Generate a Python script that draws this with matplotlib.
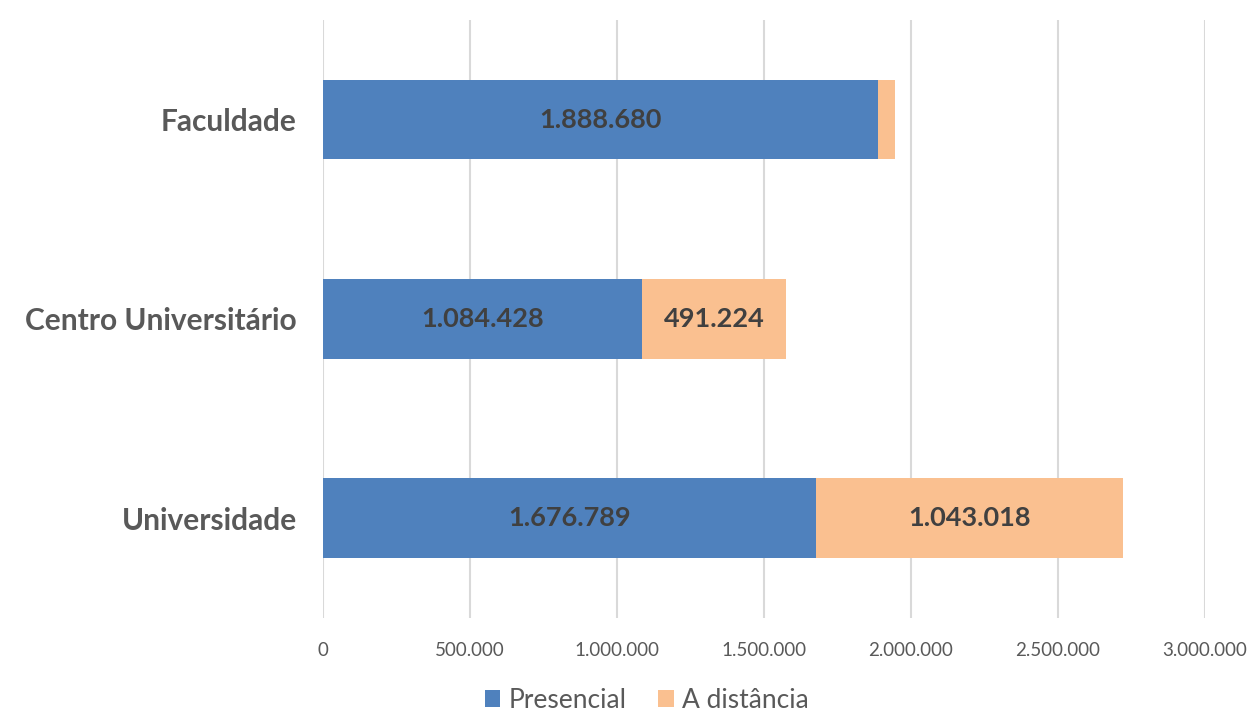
import numpy as np
import matplotlib.pyplot as plt
from matplotlib.ticker import FuncFormatter

categorias = ['Faculdade', 'Centro Universitário', 'Universidade']
presencial = [1888680, 1084428, 1676789]
a_distancia = [58000, 491224, 1043018]
rotulos_pres = ['1.888.680', '1.084.428', '1.676.789']
rotulos_dist = ['', '491.224', '1.043.018']

plt.rcParams['font.family'] = ['Lato', 'DejaVu Sans']

azul = '#4F81BD'
laranja = '#FAC090'
cinza = '#595959'

fig = plt.figure(figsize=(12.53, 7.12), dpi=100)
ax = fig.add_axes([0.2578, 0.132, 0.7039, 0.840])

y = np.arange(len(categorias))
b1 = ax.barh(y, presencial, height=0.4, color=azul, label='Presencial', zorder=3)
b2 = ax.barh(y, a_distancia, left=presencial, height=0.4, color=laranja,
             label='A distância', zorder=3)

for rect, txt in zip(b1, rotulos_pres):
    ax.text(rect.get_x() + rect.get_width() / 2, rect.get_y() + rect.get_height() / 2,
            txt, ha='center', va='center', fontsize=19.5, fontweight='bold', color='#404040', zorder=4)
for rect, txt in zip(b2, rotulos_dist):
    if txt:
        ax.text(rect.get_x() + rect.get_width() / 2, rect.get_y() + rect.get_height() / 2,
                txt, ha='center', va='center', fontsize=19.5, fontweight='bold', color='#404040', zorder=4)

ax.set_xlim(0, 3000000)
ax.set_ylim(2.5, -0.5)
ax.set_xticks(np.arange(0, 3000001, 500000))
ax.xaxis.set_major_formatter(FuncFormatter(lambda v, p: f'{int(v):,}'.replace(',', '.')))
ax.set_yticks(y)
ax.set_yticklabels(categorias, fontsize=21.5, fontweight='bold', color=cinza)

ax.grid(axis='x', color='#D9D9D9', linewidth=1.5, zorder=0)
for s in ax.spines.values():
    s.set_visible(False)
ax.tick_params(axis='x', length=0, labelsize=13.5, colors=cinza, pad=17)
ax.tick_params(axis='y', length=0, pad=19)

leg = fig.legend(handles=[b1, b2], labels=['Presencial', 'A distância'], loc='center',
                 bbox_to_anchor=(0.516, 0.016), ncol=2, frameon=False, fontsize=19,
                 handlelength=0.6, handleheight=0.6, handletextpad=0.3, columnspacing=1.2)
for t in leg.get_texts():
    t.set_color(cinza)

fig.savefig('out.png', dpi=100)
